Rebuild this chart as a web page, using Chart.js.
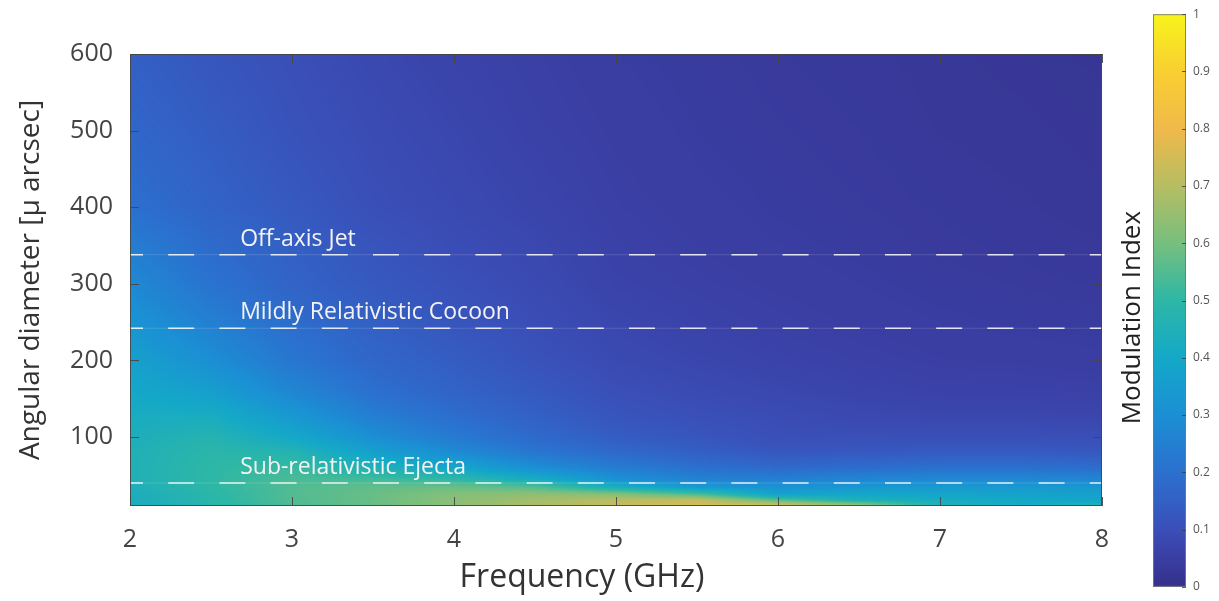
<!DOCTYPE html>
<html lang="en">
<head>
<meta charset="UTF-8">
<title>Modulation Index</title>
<style>
    body { margin: 0; background: #fff; }
    #wrap { position: relative; width: 1219px; height: 601px; }
    #mapChart { position: absolute; left: 0; top: 0; }
    #barChart { position: absolute; left: 1100px; top: 0; }
</style>
<script src="https://cdn.jsdelivr.net/npm/chart.js"></script>
</head>
<body>
<div id="wrap">
    <canvas id="mapChart" width="1219" height="601"></canvas>
    <canvas id="barChart" width="119" height="601"></canvas>
</div>
<script>
// grid of the map: frequency columns (GHz) and angular diameter rows (micro arcsec)
const freqs = [2.0, 2.5, 3.0, 3.5, 4.0, 4.5, 5.0, 5.5, 6.0, 6.5, 7.0, 7.5, 8.0];
const diameters = [10, 18, 25, 35, 45, 60, 80, 100, 130, 160, 200, 250, 300, 340, 400, 500, 600];

// modulation index along each row, one value per frequency
const m10  = [0.42, 0.48, 0.54, 0.58, 0.63, 0.68, 0.73, 0.76, 0.78, 0.68, 0.46, 0.42, 0.46];
const m18  = [0.43, 0.49, 0.55, 0.58, 0.63, 0.67, 0.70, 0.72, 0.55, 0.44, 0.42, 0.40, 0.39];
const m25  = [0.43, 0.49, 0.55, 0.58, 0.62, 0.64, 0.63, 0.55, 0.38, 0.40, 0.39, 0.38, 0.37];
const m35  = [0.44, 0.50, 0.55, 0.57, 0.58, 0.55, 0.43, 0.34, 0.31, 0.33, 0.34, 0.34, 0.33];
const m45  = [0.45, 0.50, 0.54, 0.53, 0.50, 0.42, 0.31, 0.26, 0.25, 0.27, 0.28, 0.28, 0.27];
const m60  = [0.45, 0.50, 0.52, 0.45, 0.39, 0.30, 0.24, 0.20, 0.18, 0.19, 0.20, 0.20, 0.19];
const m80  = [0.45, 0.49, 0.47, 0.37, 0.29, 0.22, 0.18, 0.15, 0.125, 0.13, 0.135, 0.135, 0.13];
const m100 = [0.44, 0.47, 0.40, 0.30, 0.23, 0.18, 0.14, 0.12, 0.10, 0.10, 0.10, 0.10, 0.097];
const m130 = [0.42, 0.42, 0.33, 0.24, 0.19, 0.15, 0.115, 0.10, 0.09, 0.08, 0.075, 0.075, 0.072];
const m160 = [0.40, 0.36, 0.27, 0.20, 0.16, 0.13, 0.10, 0.087, 0.077, 0.068, 0.062, 0.06, 0.057];
const m200 = [0.37, 0.30, 0.22, 0.17, 0.14, 0.11, 0.085, 0.074, 0.065, 0.058, 0.052, 0.05, 0.047];
const m250 = [0.32, 0.25, 0.19, 0.15, 0.12, 0.095, 0.075, 0.064, 0.056, 0.05, 0.045, 0.042, 0.04];
const m300 = [0.28, 0.21, 0.16, 0.13, 0.105, 0.085, 0.065, 0.056, 0.05, 0.045, 0.04, 0.037, 0.034];
const m340 = [0.25, 0.19, 0.15, 0.12, 0.095, 0.08, 0.06, 0.052, 0.046, 0.042, 0.037, 0.034, 0.031];
const m400 = [0.20, 0.16, 0.13, 0.10, 0.085, 0.07, 0.055, 0.048, 0.042, 0.038, 0.034, 0.031, 0.028];
const m500 = [0.17, 0.14, 0.11, 0.09, 0.075, 0.06, 0.05, 0.043, 0.038, 0.035, 0.03, 0.028, 0.025];
const m600 = [0.15, 0.12, 0.10, 0.08, 0.065, 0.055, 0.045, 0.04, 0.035, 0.032, 0.028, 0.025, 0.022];
const modIndex = [m10, m18, m25, m35, m45, m60, m80, m100, m130, m160, m200, m250, m300, m340, m400, m500, m600];

// source classes marked across the map
const bandNames = ['Off-axis Jet', 'Mildly Relativistic Cocoon', 'Sub-relativistic Ejecta'];
const bandDiameters = [338, 242, 40];

const freqTicks = [2, 3, 4, 5, 6, 7, 8];
const diamTicks = [100, 200, 300, 400, 500, 600];
const cbarTicks = [0, 0.1, 0.2, 0.3, 0.4, 0.5, 0.6, 0.7, 0.8, 0.9, 1];

// parula-like colour map
const cmapStops = [
    [0.00, '#35308a'], [0.05, '#3a3ea3'], [0.10, '#3a4fb8'], [0.15, '#3360c4'],
    [0.20, '#2b70ce'], [0.30, '#1b8fd4'], [0.40, '#14a8c8'], [0.50, '#2db7a6'],
    [0.60, '#77bf7e'], [0.70, '#b6bd63'], [0.80, '#f0b94a'], [0.90, '#f9cf31'],
    [1.00, '#f7f41c']
];
const cmapRgb = cmapStops.map(([v, c]) => [v, parseInt(c.slice(1, 3), 16), parseInt(c.slice(3, 5), 16), parseInt(c.slice(5, 7), 16)]);

function colorAt(v) {
    v = Math.max(0, Math.min(1, v));
    let k = 0;
    while (k < cmapRgb.length - 2 && cmapRgb[k + 1][0] < v) k++;
    const a = cmapRgb[k], b = cmapRgb[k + 1];
    const t = (v - a[0]) / (b[0] - a[0]);
    return [a[1] + (b[1] - a[1]) * t, a[2] + (b[2] - a[2]) * t, a[3] + (b[3] - a[3]) * t];
}

function bracket(arr, v) {
    let k = 0;
    while (k < arr.length - 2 && arr[k + 1] < v) k++;
    const t = Math.max(0, Math.min(1, (v - arr[k]) / (arr[k + 1] - arr[k])));
    return [k, t];
}

Chart.defaults.font.family = '"Open Sans", sans-serif';

// where the band names and the frequency title sit, in axis units
const labelFreq = 2.68;
const xTitleFreq = 4.79;

// shaded map under the band lines (smooth shading between grid nodes)
const heatmap = {
    id: 'heatmap',
    beforeDatasetsDraw(chart) {
        const { ctx, chartArea: a, scales: { x, y } } = chart;
        const w = Math.round(a.right - a.left), h = Math.round(a.bottom - a.top);
        const img = ctx.createImageData(w, h);
        const cols = [];
        for (let i = 0; i < w; i++) cols.push(bracket(freqs, x.getValueForPixel(a.left + i + 0.5)));
        for (let j = 0; j < h; j++) {
            const [r, ty] = bracket(diameters, y.getValueForPixel(a.top + j + 0.5));
            const lo = modIndex[r], hi = modIndex[r + 1];
            for (let i = 0; i < w; i++) {
                const [c, tx] = cols[i];
                const v0 = lo[c] + (lo[c + 1] - lo[c]) * tx;
                const v1 = hi[c] + (hi[c + 1] - hi[c]) * tx;
                const rgb = colorAt(v0 + (v1 - v0) * ty);
                const p = (j * w + i) * 4;
                img.data[p] = rgb[0]; img.data[p + 1] = rgb[1]; img.data[p + 2] = rgb[2]; img.data[p + 3] = 255;
            }
        }
        ctx.putImageData(img, Math.round(a.left), Math.round(a.top));
    },
    afterDatasetsDraw(chart) {
        const { ctx, chartArea: a, scales: { x, y } } = chart;
        ctx.save();
        // axes box with inward ticks
        ctx.strokeStyle = 'rgba(70,70,70,0.9)';
        ctx.lineWidth = 1;
        ctx.strokeRect(a.left + 0.5, a.top + 0.5, a.right - a.left - 1, a.bottom - a.top - 1);
        ctx.beginPath();
        x.ticks.forEach(t => {
            const px = Math.round(x.getPixelForValue(t.value)) + 0.5;
            ctx.moveTo(px, a.bottom); ctx.lineTo(px, a.bottom - 9);
            ctx.moveTo(px, a.top); ctx.lineTo(px, a.top + 9);
        });
        y.ticks.forEach(t => {
            const py = Math.round(y.getPixelForValue(t.value)) + 0.5;
            ctx.moveTo(a.left, py); ctx.lineTo(a.left + 9, py);
            ctx.moveTo(a.right, py); ctx.lineTo(a.right - 9, py);
        });
        ctx.stroke();
        // band names
        ctx.fillStyle = '#f3f3f3';
        ctx.font = '23px "Open Sans"';
        ctx.textBaseline = 'alphabetic';
        ctx.textAlign = 'left';
        bandNames.forEach((name, k) => {
            ctx.fillText(name, x.getPixelForValue(labelFreq), y.getPixelForValue(bandDiameters[k]) - 9);
        });
        // frequency axis title
        ctx.fillStyle = '#333';
        ctx.font = '32px "Open Sans"';
        ctx.textAlign = 'center';
        ctx.textBaseline = 'middle';
        ctx.fillText('Frequency (GHz)', x.getPixelForValue(xTitleFreq), a.bottom + 72);
        ctx.restore();
    }
};

const bandLines = bandDiameters.map(d => ({
    data: [{ x: freqs[0], y: d }, { x: freqs[freqs.length - 1], y: d }],
    showLine: true,
    borderColor: 'rgba(255,255,255,0.85)',
    borderWidth: 1.6,
    borderDash: [26, 25.2],
    borderDashOffset: 13,
    pointRadius: 0
}));
// faint continuous trace under each dashed line
const bandTraces = bandDiameters.map(d => ({
    data: [{ x: freqs[0], y: d }, { x: freqs[freqs.length - 1], y: d }],
    showLine: true,
    borderColor: 'rgba(255,255,255,0.15)',
    borderWidth: 1,
    pointRadius: 0
}));

new Chart(document.getElementById('mapChart'), {
    type: 'scatter',
    data: { datasets: bandTraces.concat(bandLines) },
    options: {
        responsive: false,
        animation: false,
        layout: { padding: { left: 0, top: 54, right: 117, bottom: 0 } },
        plugins: { legend: { display: false }, tooltip: { enabled: false } },
        scales: {
            x: {
                type: 'linear', min: 2, max: 8,
                afterBuildTicks: s => { s.ticks = freqTicks.map(v => ({ value: v })); },
                afterFit: s => { s.height = 95; },
                grid: { display: false, drawTicks: false },
                border: { display: false },
                ticks: { padding: 19, color: '#444', font: { size: 25 }, callback: v => String(v) }
            },
            y: {
                type: 'linear', min: 10, max: 600,
                afterBuildTicks: s => { s.ticks = diamTicks.map(v => ({ value: v })); },
                afterFit: s => { s.width = 130; },
                grid: { display: false, drawTicks: false },
                border: { display: false },
                ticks: { padding: 17, color: '#444', font: { size: 25 }, callback: v => String(v) },
                title: { display: true, text: 'Angular diameter [μ arcsec]', color: '#333', font: { size: 28 }, padding: { top: 14, bottom: 0 } }
            }
        }
    },
    plugins: [heatmap]
});

// colour bar drawn along its own value axis
const cbarTitleAt = 0.47;
const colorbar = {
    id: 'colorbar',
    beforeDatasetsDraw(chart) {
        const { ctx, chartArea: a, scales: { y } } = chart;
        ctx.save();
        const g = ctx.createLinearGradient(0, y.getPixelForValue(0), 0, y.getPixelForValue(1));
        cmapStops.forEach(([v, c]) => g.addColorStop(v, c));
        ctx.fillStyle = g;
        ctx.fillRect(a.left, a.top, a.right - a.left, a.bottom - a.top);
        ctx.strokeStyle = 'rgba(120,120,120,0.9)';
        ctx.lineWidth = 1;
        ctx.strokeRect(a.left + 0.5, a.top + 0.5, a.right - a.left - 1, a.bottom - a.top - 1);
        ctx.strokeStyle = 'rgba(60,60,60,0.8)';
        ctx.beginPath();
        y.ticks.forEach(t => {
            const py = Math.round(y.getPixelForValue(t.value)) + 0.5;
            ctx.moveTo(a.right, py); ctx.lineTo(a.right - 4, py);
        });
        ctx.stroke();
        // vertical title left of the bar
        ctx.translate(a.left - 20, y.getPixelForValue(cbarTitleAt));
        ctx.rotate(-Math.PI / 2);
        ctx.fillStyle = '#222';
        ctx.font = '26px "Open Sans"';
        ctx.textAlign = 'center';
        ctx.textBaseline = 'middle';
        ctx.fillText('Modulation Index', 0, 0);
        ctx.restore();
    }
};

new Chart(document.getElementById('barChart'), {
    type: 'scatter',
    data: { datasets: [] },
    options: {
        responsive: false,
        animation: false,
        layout: { padding: { left: 53, top: 12, right: 0, bottom: 13 } },
        plugins: { legend: { display: false }, tooltip: { enabled: false } },
        scales: {
            x: { type: 'linear', display: false, min: 0, max: 1 },
            y: {
                type: 'linear', position: 'right', min: 0, max: 1,
                afterBuildTicks: s => { s.ticks = cbarTicks.map(v => ({ value: v })); },
                afterFit: s => { s.width = 33; },
                grid: { display: false, drawTicks: false },
                border: { display: false },
                ticks: { padding: 7, color: '#555', font: { size: 12 }, callback: v => String(Math.round(v * 10) / 10) }
            }
        }
    },
    plugins: [colorbar]
});
</script>
</body>
</html>
